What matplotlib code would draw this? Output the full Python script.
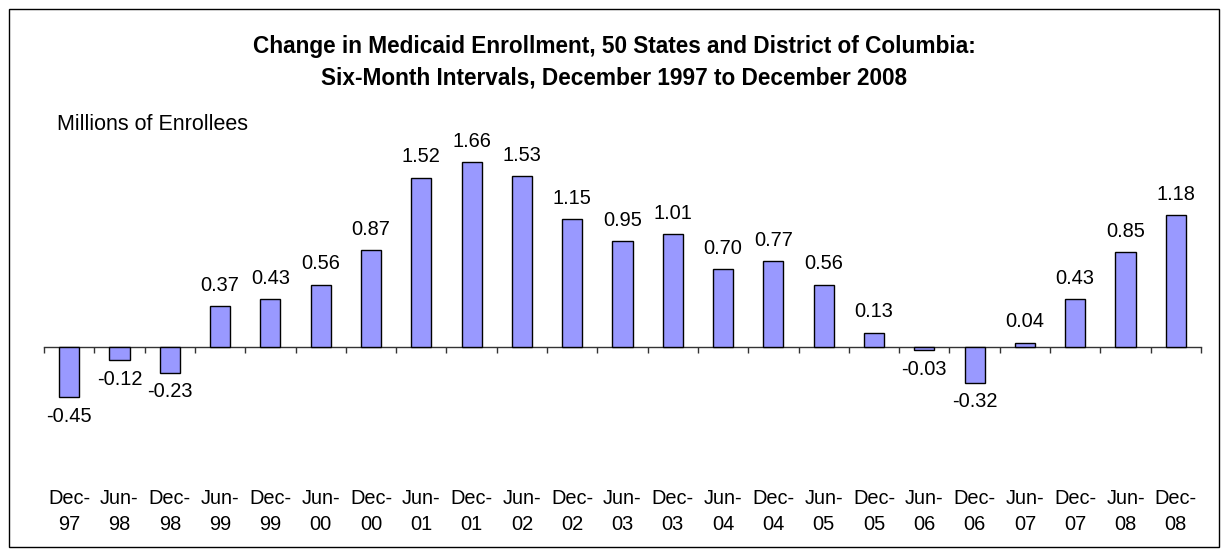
import matplotlib
matplotlib.use("Agg")
import matplotlib.pyplot as plt
from matplotlib.patches import Rectangle
import numpy as np

categories = ["Dec-\n97", "Jun-\n98", "Dec-\n98", "Jun-\n99", "Dec-\n99", "Jun-\n00",
              "Dec-\n00", "Jun-\n01", "Dec-\n01", "Jun-\n02", "Dec-\n02", "Jun-\n03",
              "Dec-\n03", "Jun-\n04", "Dec-\n04", "Jun-\n05", "Dec-\n05", "Jun-\n06",
              "Dec-\n06", "Jun-\n07", "Dec-\n07", "Jun-\n08", "Dec-\n08"]
values = [-0.45, -0.12, -0.23, 0.37, 0.43, 0.56, 0.87, 1.52, 1.66, 1.53, 1.15, 0.95,
          1.01, 0.70, 0.77, 0.56, 0.13, -0.03, -0.32, 0.04, 0.43, 0.85, 1.18]
title_lines = ["Change in Medicaid Enrollment, 50 States and District of Columbia:",
               "Six-Month Intervals, December 1997 to December 2008"]
y_label = "Millions of Enrollees"

plt.rcParams['font.family'] = ['Liberation Sans', 'DejaVu Sans']

W, H = 1227, 555
fig = plt.figure(figsize=(W / 100, H / 100), dpi=100)
fig.patch.set_facecolor('white')
bx0, by0, bx1, by1 = 8.5, 8.5, 1218.5, 546.5
fig.patches.append(Rectangle((bx0 / W, 1 - by1 / H), (bx1 - bx0) / W, (by1 - by0) / H,
                             transform=fig.transFigure, fill=False,
                             edgecolor='black', linewidth=1.0))

ymin, ymax = -0.6, 1.8
ppu = 111.5
zero_px = 347.0
bottom_px = zero_px + (0 - ymin) * ppu
top_px = zero_px - ymax * ppu
ax = fig.add_axes([44 / W, (H - bottom_px) / H, (1201 - 44) / W, (bottom_px - top_px) / H])
ax.patch.set_visible(False)

n = len(values)
x = np.arange(n)
ax.bar(x, values, width=0.4, color='#9999FF', edgecolor='black', linewidth=1.0, zorder=3)
ax.set_xlim(-0.5, n - 0.5)
ax.set_ylim(ymin, ymax)

for xi, v in zip(x, values):
    if v >= 0:
        ax.annotate(f"{v:.2f}", (xi, v), xytext=(0, 8), textcoords='offset points',
                    ha='center', va='bottom', fontsize=14.4)
    else:
        ax.annotate(f"{v:.2f}", (xi, v), xytext=(0, -7), textcoords='offset points',
                    ha='center', va='top', fontsize=14.4)

for s in ['top', 'right', 'left']:
    ax.spines[s].set_visible(False)
ax.spines['bottom'].set_position(('data', 0))
ax.spines['bottom'].set_color('#333333')
ax.spines['bottom'].set_linewidth(1.0)
ax.set_yticks([])

ax.set_xticks(np.arange(-0.5, n, 1.0))
ax.set_xticklabels([])
ax.tick_params(axis='x', which='major', direction='out', length=4, width=1, color='#333333')
ax.set_xticks(x, minor=True)
ax.set_xticklabels(categories, minor=True, fontsize=14.4, linespacing=1.5)
ax.tick_params(axis='x', which='minor', length=0, pad=102)

fig.text(614 / W, 1 - 53 / H, title_lines[0], ha='center', va='baseline',
         fontsize=16.3, fontweight='bold')
fig.text(614 / W, 1 - 85 / H, title_lines[1], ha='center', va='baseline',
         fontsize=16.3, fontweight='bold')
fig.text(57 / W, 1 - 130 / H, y_label, ha='left', va='baseline', fontsize=15.5)

fig.savefig("out.png", dpi=100)
